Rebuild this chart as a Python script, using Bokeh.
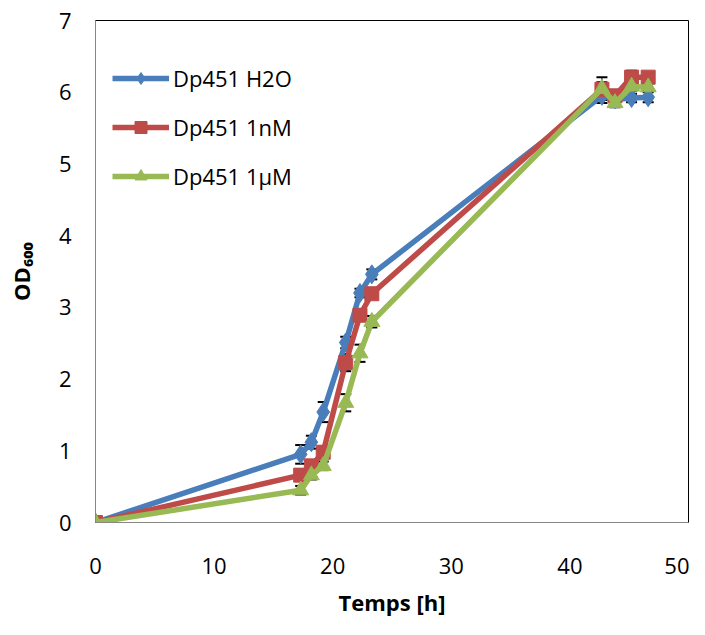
from bokeh.plotting import figure
from bokeh.models import Range1d, FixedTicker, Legend
from bokeh.embed import file_html
from bokeh.resources import INLINE

# ---- data ----
time_h = [0, 17.3, 18.2, 19.2, 21.1, 22.3, 23.3, 42.7, 43.8, 45.2, 46.6]
h2o = [0, 0.95, 1.12, 1.54, 2.51, 3.20, 3.46, 5.95, 5.90, 5.92, 5.93]
h2o_err = [0, 0.13, 0.09, 0.14, 0.08, 0.06, 0.07, 0.10, 0.05, 0.06, 0.07]
nm1 = [0, 0.66, 0.79, 0.98, 2.23, 2.89, 3.19, 6.04, 5.95, 6.21, 6.21]
nm1_err = [0, 0.08, 0.08, 0.08, 0.12, 0.08, 0.06, 0.10, 0.06, 0.09, 0.05]
um1 = [0, 0.45, 0.66, 0.79, 1.67, 2.36, 2.80, 6.05, 5.85, 6.08, 6.07]
um1_err = [0, 0.06, 0.06, 0.06, 0.12, 0.12, 0.08, 0.16, 0.06, 0.06, 0.05]
series_names = ["Dp451 H2O", "Dp451 1nM", "Dp451 1µM"]
x_ticks = [0, 10, 20, 30, 40, 50]
y_ticks = [0, 1, 2, 3, 4, 5, 6, 7]

FONT = "Open Sans"

p = figure(width=689, height=619, output_backend="svg", toolbar_location=None,
           x_range=Range1d(0, 50), y_range=Range1d(0, 7),
           min_border_left=95, min_border_right=1, min_border_top=20, min_border_bottom=95)
p.background_fill_color = "white"
p.border_fill_color = "white"
p.outline_line_color = "black"
p.outline_line_width = 1
p.xgrid.visible = False
p.ygrid.visible = False

for ax in (p.xaxis[0], p.yaxis[0]):
    ax.axis_line_color = "#868686"
    ax.axis_line_width = 1
    ax.major_tick_out = 0
    ax.major_tick_in = 0
    ax.minor_tick_out = 0
    ax.minor_tick_in = 0
    ax.major_label_text_font = FONT
    ax.major_label_text_font_size = "22px"
    ax.major_label_text_color = "black"
    ax.axis_label_text_font = FONT
    ax.axis_label_text_font_size = "22px"
    ax.axis_label_text_font_style = "bold"
    ax.axis_label_text_color = "black"

p.xaxis.ticker = FixedTicker(ticks=x_ticks)
p.yaxis.ticker = FixedTicker(ticks=y_ticks)
p.xaxis.major_label_standoff = 35
p.yaxis.major_label_standoff = 24
p.xaxis.axis_label = "Temps [h]"
p.yaxis.axis_label = "OD₆₀₀"
p.xaxis.axis_label_standoff = 10
p.yaxis.axis_label_standoff = 20

colors = ["#4A7EBB", "#BE4B48", "#98B954"]
markers = ["diamond", "square", "triangle"]
sizes = [19, 14, 16]
vals = [h2o, nm1, um1]
errs = [h2o_err, nm1_err, um1_err]

# error bars first, beneath the series
for y, e in zip(vals, errs):
    up = [a + b for a, b in zip(y, e)]
    lo = [a - b for a, b in zip(y, e)]
    p.segment(time_h, lo, time_h, up, line_color="black", line_width=1)
    p.scatter(time_h, up, marker="dash", size=11, line_color="black", line_width=2)
    p.scatter(time_h, lo, marker="dash", size=11, line_color="black", line_width=2)

legend_items = []
for name, col, mk, sz, y in zip(series_names, colors, markers, sizes, vals):
    lr = p.line(time_h, y, line_color=col, line_width=5.5, line_join="round")
    sr = p.scatter(time_h, y, marker=mk, size=sz, fill_color=col, line_color=col)
    legend_items.append((name, [lr, sr]))

legend = Legend(items=legend_items, location=(17, 331))
legend.label_text_font = FONT
legend.label_text_font_size = "22px"
legend.label_text_color = "black"
legend.glyph_width = 57
legend.glyph_height = 30
legend.label_height = 30
legend.label_standoff = 4
legend.spacing = 19
legend.padding = 0
legend.margin = 0
legend.border_line_color = None
legend.background_fill_alpha = 0
p.add_layout(legend)

open("out.html", "w").write(file_html(p, INLINE))
